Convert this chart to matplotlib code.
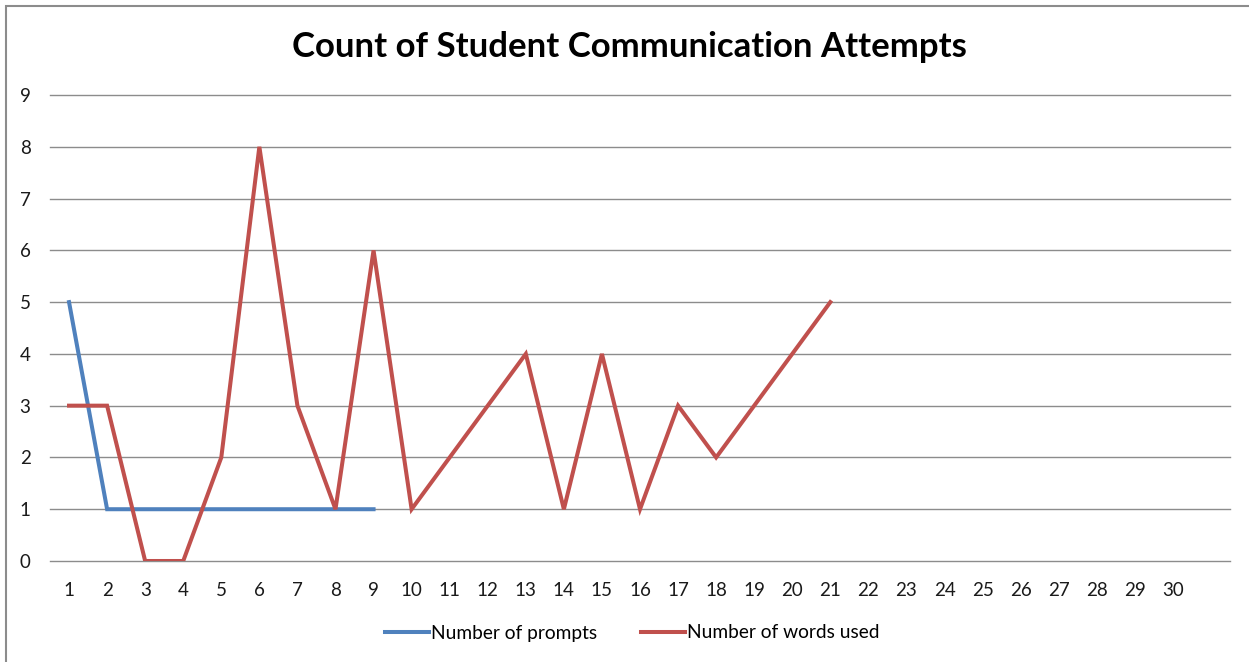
import numpy as np
import matplotlib
matplotlib.use("Agg")
import matplotlib.pyplot as plt
from matplotlib.patches import Rectangle

# Session numbers and recorded counts
sessions = list(range(1, 32))
tick_labels = [str(i) for i in range(1, 31)] + [""]
prompts = [5, 1, 1, 1, 1, 1, 1, 1, 1]
words_used = [3, 3, 0, 0, 2, 8, 3, 1, 6, 1, 2, 3, 4, 1, 4, 1, 3, 2, 3, 4, 5]

plt.rcParams['font.family'] = ['Lato', 'DejaVu Sans']

fig = plt.figure(figsize=(12.49, 6.62), dpi=100)
ax = fig.add_axes([50 / 1249, 1 - 561 / 662, 1180 / 1249, 466 / 662])

ax.plot(sessions[:len(prompts)], prompts, color='#4F81BD', lw=2.9,
        solid_joinstyle='miter', label='Number of prompts', zorder=3)
ax.plot(sessions[:len(words_used)], words_used, color='#C0504D', lw=2.9,
        solid_joinstyle='miter', label='Number of words used', zorder=4)

ax.set_xlim(0.5, 31.5)
ax.set_ylim(0, 9)
ax.set_xticks(sessions)
ax.set_xticklabels(tick_labels)
ax.set_yticks(range(0, 10))
ax.tick_params(length=0, labelsize=13.5, colors='#1a1a1a')
ax.tick_params(axis='x', pad=15)
ax.tick_params(axis='y', pad=14)
ax.grid(axis='y', color='#8c8c8c', lw=1)
for gl in ax.get_ygridlines():
    gl.set_clip_on(False)
ax.set_axisbelow(True)
for s in ax.spines.values():
    s.set_visible(False)

fig.text(629 / 1249, 1 - 47 / 662, 'Count of Student Communication Attempts',
         ha='center', va='center', fontsize=25, fontweight='bold')

leg = fig.legend(loc='center', bbox_to_anchor=(632 / 1249, 1 - 633 / 662),
                 ncol=2, frameon=False, fontsize=13.8, handlelength=2.3,
                 handletextpad=0.1, columnspacing=2.3)

fig.patches.append(Rectangle((6 / 1249, -0.01), 1.1, 1 - 6 / 662 + 0.01,
                             transform=fig.transFigure, fill=False,
                             edgecolor='#8c8c8c', lw=1.5))

fig.savefig('out.png', dpi=100)
